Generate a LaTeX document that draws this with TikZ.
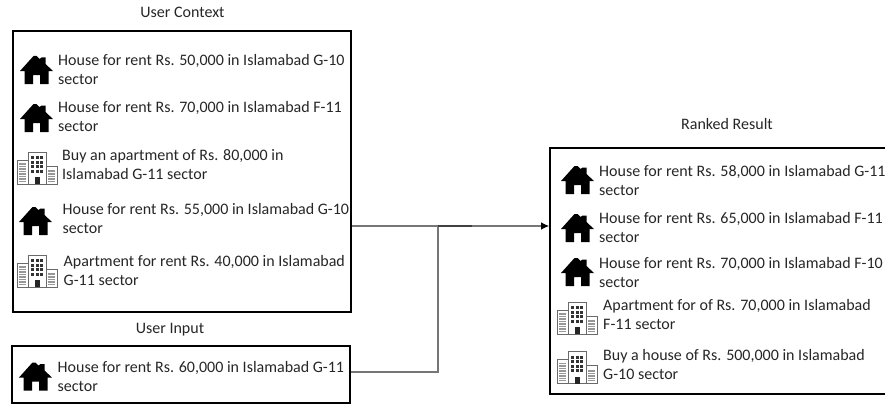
\documentclass[tikz,border=0pt]{standalone}
\usepackage{fontspec}
\usetikzlibrary{arrows.meta}
\setmainfont{Carlito}
\definecolor{txt}{HTML}{262626}
\definecolor{conn}{HTML}{767676}
\definecolor{bld}{HTML}{6A6A6A}
\tikzset{
  x=1pt,y=-1pt,
  panel/.style={draw=black,line width=1.7pt,inner sep=0pt,fill=none},
  lbl/.style={anchor=west,align=left,inner sep=0pt,text=txt,font=\fontsize{16}{19}\selectfont},
  ttl/.style={inner sep=0pt,text=txt,font=\fontsize{16}{19}\selectfont},
  link/.style={draw=conn,line width=1.2pt},
  housepic/.pic={
    \fill[black] (-16.5,1) -- (-3,-14) -- (0,-14) -- (3,-11) -- (5,-12.5) -- (9,-12.5) -- (9,-6) -- (16.5,1) -- (12,1) -- (12,14) -- (3.5,14) -- (3.5,5) -- (-3.5,5) -- (-3.5,14) -- (-12,14) -- (-12,1) -- cycle;
  },
  bldpic/.pic={
    \draw[bld,fill=white,line width=.9pt] (-20,-8) rectangle (-9,16);
    \draw[bld,fill=white,line width=.9pt] (9,-2) rectangle (20,16);
    \draw[bld,fill=white,line width=.9pt] (-9,-16) rectangle (9,16);
    \fill[black!85] (-2.5,9) rectangle (2.5,16);
    \foreach \yy in {-12,-7.5,-3,1.5}{\foreach \xx in {-5.8,-1.5,2.8}{\fill[black!80] (\xx,\yy) rectangle ++(3,3);}}
    \fill[bld!70] (-18,-5) rectangle (-11,13.5);
    \fill[bld!70] (11,2) rectangle (18,13.5);
    \foreach \yy in {-3,-0.5,2,4.5,7,9.5,12}{\draw[white,line width=.6pt] (-18,\yy) -- (-11,\yy);}
    \foreach \yy in {4.5,7,9.5,12}{\draw[white,line width=.6pt] (11,\yy) -- (18,\yy);}
  }
}
\begin{document}
\begin{tikzpicture}
\useasboundingbox (0,0) rectangle (885,404);
\clip (0,0) rectangle (885,404);
% panels
\node[panel,minimum width=338pt,minimum height=281pt] (ctx) at (182,171.5) {};
\node[panel,minimum width=338pt,minimum height=57pt] (inp) at (181,374.5) {};
\node[panel,minimum width=345pt,minimum height=246pt] (res) at (722.5,271) {};
% titles
\node[ttl] (tctx) at (182.5,12) {User Context};
\node[ttl] (tinp) at (170,330) {User Input};
\node[ttl] (tres) at (727,124) {Ranked Result};
% connectors
\coordinate (junc) at (438,226);
\coordinate (ilink) at (438,372);
\coordinate (thick) at (472,226);
\draw[link] (ctx.east |- junc) -- (junc);
\draw[link] (inp.east |- ilink) -- (ilink) -- (junc);
\draw[link,-{Latex[length=8pt,width=7.5pt,black]}] (junc) -- (res.west |- junc);
\draw[draw=black!75,line width=1.2pt] (junc) -- (thick);
% icons
\pic at (36.5,70) {housepic};
\pic at (36.5,118) {housepic};
\pic at (37,168) {bldpic};
\pic at (35.5,221) {housepic};
\pic at (37,271) {bldpic};
\pic at (35.5,376.5) {housepic};
\pic at (577.5,180) {housepic};
\pic at (577.5,228) {housepic};
\pic at (577.5,272) {housepic};
\pic at (577,318) {bldpic};
\pic at (577,367.5) {bldpic};
% texts
\node[lbl] (c1) at (58,70) {House for rent Rs. 50,000 in Islamabad G-10\\sector};
\node[lbl] (c2) at (58,116.5) {House for rent Rs. 70,000 in Islamabad F-11\\sector};
\node[lbl] (c3) at (62,164.5) {Buy an apartment of Rs. 80,000 in\\Islamabad G-11 sector};
\node[lbl] (c4) at (62.5,219) {House for rent Rs. 55,000 in Islamabad G-10\\sector};
\node[lbl] (c5) at (63.5,271) {Apartment for rent Rs. 40,000 in Islamabad\\G-11 sector};
\node[lbl] (i1) at (57.5,376) {House for rent Rs. 60,000 in Islamabad G-11\\sector};
\node[lbl] (r1) at (599,181) {House for rent Rs. 58,000 in Islamabad G-11\\sector};
\node[lbl] (r2) at (599,227.5) {House for rent Rs. 65,000 in Islamabad F-11\\sector};
\node[lbl] (r3) at (599,272.5) {House for rent Rs. 70,000 in Islamabad F-10\\sector};
\node[lbl] (r4) at (603,314.5) {Apartment for of Rs. 70,000 in Islamabad\\F-11 sector};
\node[lbl] (r5) at (603,364.5) {Buy a house of Rs. 500,000 in Islamabad\\G-10 sector};
\end{tikzpicture}
\end{document}
